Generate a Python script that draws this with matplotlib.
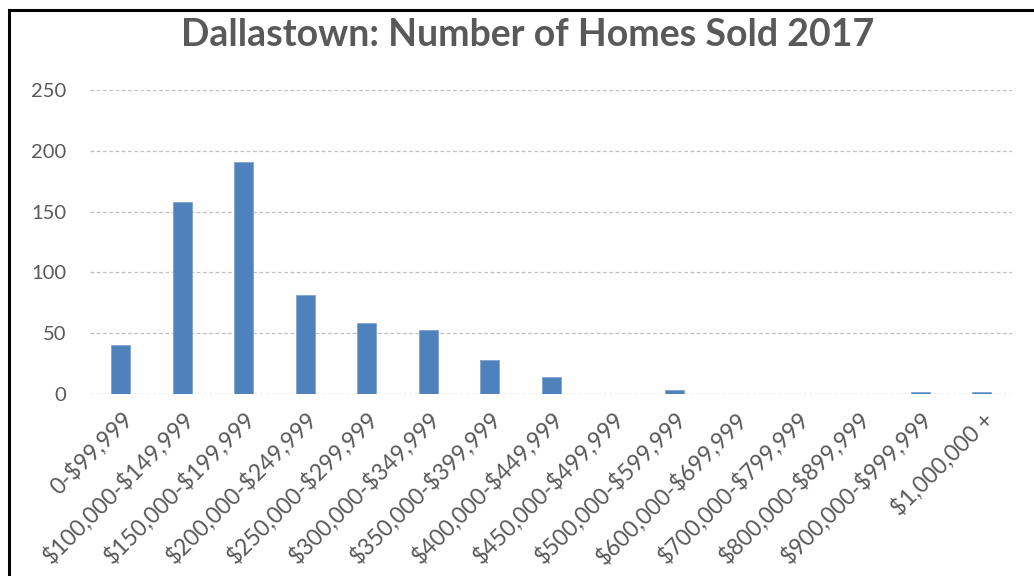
import matplotlib.pyplot as plt
import numpy as np
from matplotlib.lines import Line2D

# price bands and homes sold
price_bands = [
    '0-$99,999', '$100,000-$149,999', '$150,000-$199,999', '$200,000-$249,999',
    '$250,000-$299,999', '$300,000-$349,999', '$350,000-$399,999', '$400,000-$449,999',
    '$450,000-$499,999', '$500,000-$599,999', '$600,000-$699,999', '$700,000-$799,999',
    '$800,000-$899,999', '$900,000-$999,999', '$1,000,000 +',
]
homes_sold = [40, 158, 191, 81, 58, 53, 28, 14, 0, 3, 0, 0, 0, 2, 2]
y_ticks = [0, 50, 100, 150, 200, 250]

plt.rcParams['font.family'] = ['Lato', 'DejaVu Sans']
plt.rcParams['text.parse_math'] = False

fig = plt.figure(figsize=(10.34, 5.76), dpi=100)
ax = fig.add_axes([0.087, 0.316, 0.892, 0.528])

x = np.arange(len(price_bands))
ax.bar(x, homes_sold, width=0.31, color='#4F81BD', edgecolor='#7FA3D1',
       linewidth=0.6, zorder=3)

ax.set_xlim(-0.5, len(price_bands) - 0.5)
ax.set_ylim(0, 250)
ax.set_yticks(y_ticks)
ax.grid(axis='y', color='#BFBFBF', linestyle=(0, (3, 2)), linewidth=0.9, zorder=0)
for s in ax.spines.values():
    s.set_visible(False)
ax.axhline(0, color='#BFBFBF', linestyle=(0, (3, 2)), linewidth=0.9, zorder=1)

ax.set_xticks(x)
ax.set_xticklabels(price_bands, rotation=45, ha='right', rotation_mode='anchor',
                   fontsize=16.5, color='#595959')
ax.tick_params(axis='x', length=0, pad=10)
ax.tick_params(axis='y', length=0, pad=17, labelsize=14.5, labelcolor='#595959')

fig.text(0.51, 0.94, 'Dallastown: Number of Homes Sold 2017', ha='center', va='center',
         fontsize=27, fontweight='bold', color='#595959')

# black frame edge on the left and top (cropped screenshot)
fig.add_artist(Line2D([9 / 1034, 1.0], [1 - 10 / 576, 1 - 10 / 576],
                      transform=fig.transFigure, color='black', linewidth=2.2))
fig.add_artist(Line2D([9 / 1034, 9 / 1034], [0.0, 1 - 10 / 576],
                      transform=fig.transFigure, color='black', linewidth=2.2))

fig.savefig('out.png', dpi=100)
